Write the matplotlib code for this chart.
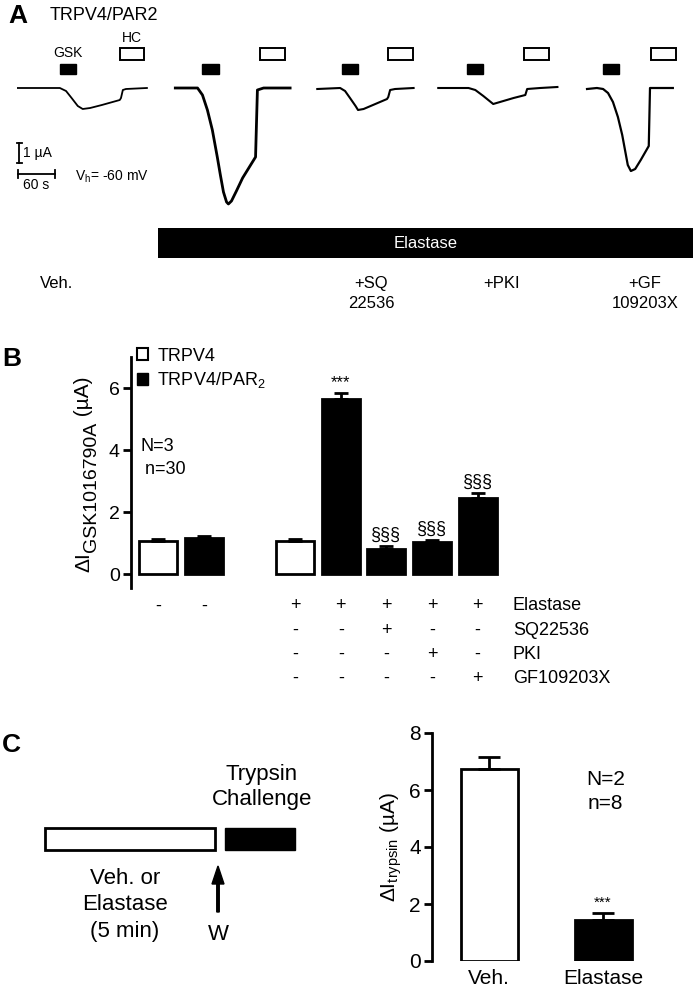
import matplotlib
matplotlib.use('Agg')
import matplotlib.pyplot as plt
from matplotlib.patches import Rectangle, Patch

plt.rcParams['font.family'] = ['Liberation Sans', 'DejaVu Sans']
plt.rcParams['mathtext.fontset'] = 'custom'
plt.rcParams['mathtext.rm'] = 'Liberation Sans'
narrow = ['Liberation Sans Narrow', 'Liberation Sans', 'DejaVu Sans']

# ---- panel A: current traces (time in s from trace start, current in uA rel. to baseline)
trace_start = [29, 284, 514, 710, 951]
trace_t = [
    [0, 68, 78, 87, 97, 105, 117, 136, 165, 167, 170, 175, 209],
    [0, 36, 44, 52, 60, 68, 73, 78, 83, 86, 91, 99, 109, 122, 130, 133, 143, 186],
    [0, 37, 45, 53, 62, 66, 75, 94, 113, 115, 118, 126, 156],
    [0, 49, 60, 73, 89, 100, 122, 141, 144, 165, 193],
    [0, 16, 26, 34, 42, 50, 57, 63, 66, 71, 78, 87, 100, 102, 139],
]
trace_i = [
    [0, 0, -0.15, -0.5, -0.9, -1.05, -1.0, -0.85, -0.6, -0.5, -0.1, -0.05, 0],
    [0, 0, -0.35, -1.1, -2.1, -3.45, -4.35, -5.2, -5.7, -5.8, -5.65, -5.15, -4.5, -3.85, -3.45, -0.1, 0, 0],
    [-0.05, 0, -0.15, -0.5, -0.9, -1.1, -1.05, -0.8, -0.55, -0.45, -0.1, -0.05, 0],
    [0, 0, -0.1, -0.4, -0.8, -0.7, -0.5, -0.35, -0.05, 0, 0.05],
    [-0.05, 0, -0.05, -0.25, -0.7, -1.45, -2.35, -3.35, -3.85, -4.15, -4.05, -3.6, -2.9, 0, 0],
]
trace_lw = [1.3, 2.0, 1.5, 1.5, 1.6]
gsk_on = [68, 44, 40, 47, 26]
hc_on = [165, 138, 115, 139, 104]
gsk_len = 26
hc_len = 40
cond_labels = ['+SQ\n22536', '+PKI', '+GF\n109203X']

# ---- panel B
b_pos = [0, 1, 3, 4, 5, 6, 7]
b_mean = [1.06, 1.16, 1.06, 5.65, 0.81, 1.03, 2.45]
b_err = [0.07, 0.07, 0.06, 0.19, 0.09, 0.07, 0.16]
b_color = ['white', 'black', 'white', 'black', 'black', 'black', 'black']
b_marks = ['', '', '', '***', '§§§', '§§§', '§§§']
b_rows = ['Elastase', 'SQ22536', 'PKI', 'GF109203X']
b_signs = [
    ['-', '-', '+', '+', '+', '+', '+'],
    ['', '', '-', '-', '+', '-', '-'],
    ['', '', '-', '-', '-', '+', '-'],
    ['', '', '-', '-', '-', '-', '+'],
]

# ---- panel C
c_labels = ['Veh.', 'Elastase']
c_mean = [6.74, 1.44]
c_err = [0.42, 0.24]
c_color = ['white', 'black']

W, H = 693, 989
fig = plt.figure(figsize=(W / 100, H / 100), dpi=100)

# overlay in pixel coordinates for panel letters and the schematic
ov = fig.add_axes([0, 0, 1, 1])
ov.set_xlim(0, W)
ov.set_ylim(H, 0)
ov.axis('off')

# ---------------- A
S = 1.62  # s per pixel
ax_a = fig.add_axes([0, 1 - 300 / H, 1, 300 / H])
ax_a.set_xlim(0, W * S)
ax_a.set_ylim(-10.6, 4.4)
ax_a.axis('off')
for k in range(5):
    t0 = trace_start[k]
    ax_a.plot([t0 + t for t in trace_t[k]], trace_i[k], color='black', lw=trace_lw[k])
    ax_a.add_patch(Rectangle((t0 + gsk_on[k], 0.7), gsk_len, 0.5, facecolor='black', edgecolor='black', lw=1))
    ax_a.add_patch(Rectangle((t0 + hc_on[k], 1.38), hc_len, 0.62, facecolor='white', edgecolor='black', lw=1.4))
ax_a.text(trace_start[0] + gsk_on[0] + gsk_len / 2, 1.4, 'GSK', ha='center', va='bottom', fontsize=10)
ax_a.text(trace_start[0] + hc_on[0] + hc_len / 2, 2.15, 'HC', ha='center', va='bottom', fontsize=10)

# scale bars
ax_a.plot([31, 31], [-2.75, -3.75], color='black', lw=1.3)
ax_a.plot([27, 35], [-2.75, -2.75], color='black', lw=1.3)
ax_a.plot([27, 35], [-3.75, -3.75], color='black', lw=1.3)
ax_a.text(37, -3.25, '1 µA', ha='left', va='center', fontsize=10)
ax_a.plot([29, 89], [-4.3, -4.3], color='black', lw=1.3)
ax_a.plot([29, 29], [-4.1, -4.5], color='black', lw=1.3)
ax_a.plot([89, 89], [-4.1, -4.5], color='black', lw=1.3)
ax_a.text(59, -4.5, '60 s', ha='center', va='top', fontsize=10)
ax_a.text(121, -4.45, 'V$_\\mathregular{h}$= -60 mV', ha='left', va='center', fontsize=10)

# elastase bar and condition labels
ax_a.add_patch(Rectangle((256, -8.5), W * S - 256, 1.5, facecolor='black', edgecolor='none'))
ax_a.text((256 + W * S) / 2, -7.75, 'Elastase', color='white', ha='center', va='center', fontsize=12)
ax_a.text(65, -9.75, 'Veh.', ha='left', va='center', fontsize=12)
for x, lab in zip([601, 812, 1045], cond_labels):
    ax_a.text(x, -9.4, lab, ha='center', va='top', fontsize=12, linespacing=1.45)
ov.text(8, 16, 'A', fontsize=19, fontweight='bold', ha='left', va='center')
ov.text(50, 16, 'TRPV4/PAR2', fontsize=13, ha='left', va='center')

# ---------------- B
ax_b = fig.add_axes([131 / W, 1 - 588 / H, 374 / W, 231 / H])
ax_b.bar(b_pos, b_mean, width=0.83, color=b_color, edgecolor='black', linewidth=2,
         yerr=[[0] * len(b_err), b_err], error_kw=dict(capsize=5, elinewidth=2, capthick=2, ecolor='black'))
ax_b.set_xlim(-0.6, 7.6)
ax_b.set_ylim(-0.45, 7)
ax_b.set_yticks([0, 2, 4, 6])
ax_b.set_xticks([])
for s in ['top', 'right', 'bottom']:
    ax_b.spines[s].set_visible(False)
ax_b.spines['left'].set_linewidth(2)
ax_b.tick_params(axis='y', length=6, width=2, labelsize=14, pad=2)
for x, m, e, mk in zip(b_pos, b_mean, b_err, b_marks):
    if mk:
        ax_b.text(x, m + e + 0.08, mk, ha='center', va='bottom', fontsize=12 if mk == '***' else 13)
for r, (row, signs) in enumerate(zip(b_rows, b_signs)):
    y = -1.03 - 0.78 * r
    for x, s in zip(b_pos, signs):
        if s:
            ax_b.text(x, y, s, ha='center', va='center', fontsize=13)
    ax_b.text(7.77, y, row, ha='left', va='center', fontsize=13)
handles = [Patch(facecolor='white', edgecolor='black', lw=1.5), Patch(facecolor='black', edgecolor='black')]
ax_b.legend(handles, ['TRPV4', 'TRPV4/PAR$_\\mathregular{2}$'], loc='upper left', bbox_to_anchor=(0.015, 1.04),
            frameon=False, handlelength=0.65, handleheight=0.65, handletextpad=0.5, fontsize=13,
            labelspacing=0.3, borderaxespad=0, borderpad=0)
ax_b.text(-0.4, 3.75, 'N=3\n n=30', ha='left', va='center', fontsize=13, linespacing=1.45)
ov.text(2, 359, 'B', fontsize=19, fontweight='bold', ha='left', va='center')

# y label of B with a full-size subscript, built from three rotated pieces
renderer = fig.canvas.get_renderer()
inv = ov.transData.inverted()
y0 = 572
for txt, xb, fs in [('ΔI', 89, 15), ('GSK1016790A', 96, 14), (' (µA)', 89, 15)]:
    t = ov.text(xb, y0, txt, rotation=90, rotation_mode='anchor', ha='left', va='baseline', fontsize=fs)
    bb = t.get_window_extent(renderer)
    y0 = inv.transform((0, bb.y1))[1]

# ---------------- C
ax_c = fig.add_axes([432 / W, 1 - 961 / H, 228 / W, 228 / H])
ax_c.bar([0, 1], c_mean, width=0.5, color=c_color, edgecolor='black', linewidth=2,
         yerr=[[0, 0], c_err], error_kw=dict(capsize=8, elinewidth=2, capthick=2, ecolor='black'))
ax_c.set_xlim(-0.5, 1.5)
ax_c.set_ylim(0, 8)
ax_c.set_yticks([0, 2, 4, 6, 8])
ax_c.set_xticks([0, 1])
ax_c.set_xticklabels(c_labels)
for s in ['top', 'right', 'bottom']:
    ax_c.spines[s].set_visible(False)
ax_c.spines['left'].set_linewidth(2)
ax_c.tick_params(axis='y', length=6, width=2, labelsize=15, pad=2)
ax_c.tick_params(axis='x', length=0, labelsize=15, pad=6)
for lbl in ax_c.get_xticklabels() + ax_c.get_yticklabels():
    lbl.set_family(narrow)
ax_c.set_ylabel('ΔI$_\\mathregular{trypsin}$ (µA)', fontsize=15, family=narrow, labelpad=4)
ax_c.text(1, c_mean[1] + c_err[1] + 0.1, '***', ha='center', va='bottom', fontsize=11)
ax_c.text(1.02, 5.95, 'N=2\nn=8', ha='center', va='center', fontsize=15, family=narrow, linespacing=1.35)

ov.text(2, 745, 'C', fontsize=19, fontweight='bold', ha='left', va='center')
ov.add_patch(Rectangle((45, 828), 170, 22, facecolor='white', edgecolor='black', lw=2))
ov.add_patch(Rectangle((225, 828), 70, 22, facecolor='black', edgecolor='black', lw=1))
ov.text(262, 787, 'Trypsin\nChallenge', ha='center', va='center', fontsize=16, family=narrow, linespacing=1.3)
ov.arrow(218, 912, 0, -46, width=2.5, head_width=12, head_length=18, length_includes_head=True,
         color='black')
ov.text(218, 935, 'W', ha='center', va='center', fontsize=16, family=narrow)
ov.text(125, 905, 'Veh. or\nElastase\n(5 min)', ha='center', va='center', fontsize=16, family=narrow,
        linespacing=1.35)

fig.savefig('out.png', dpi=100)
